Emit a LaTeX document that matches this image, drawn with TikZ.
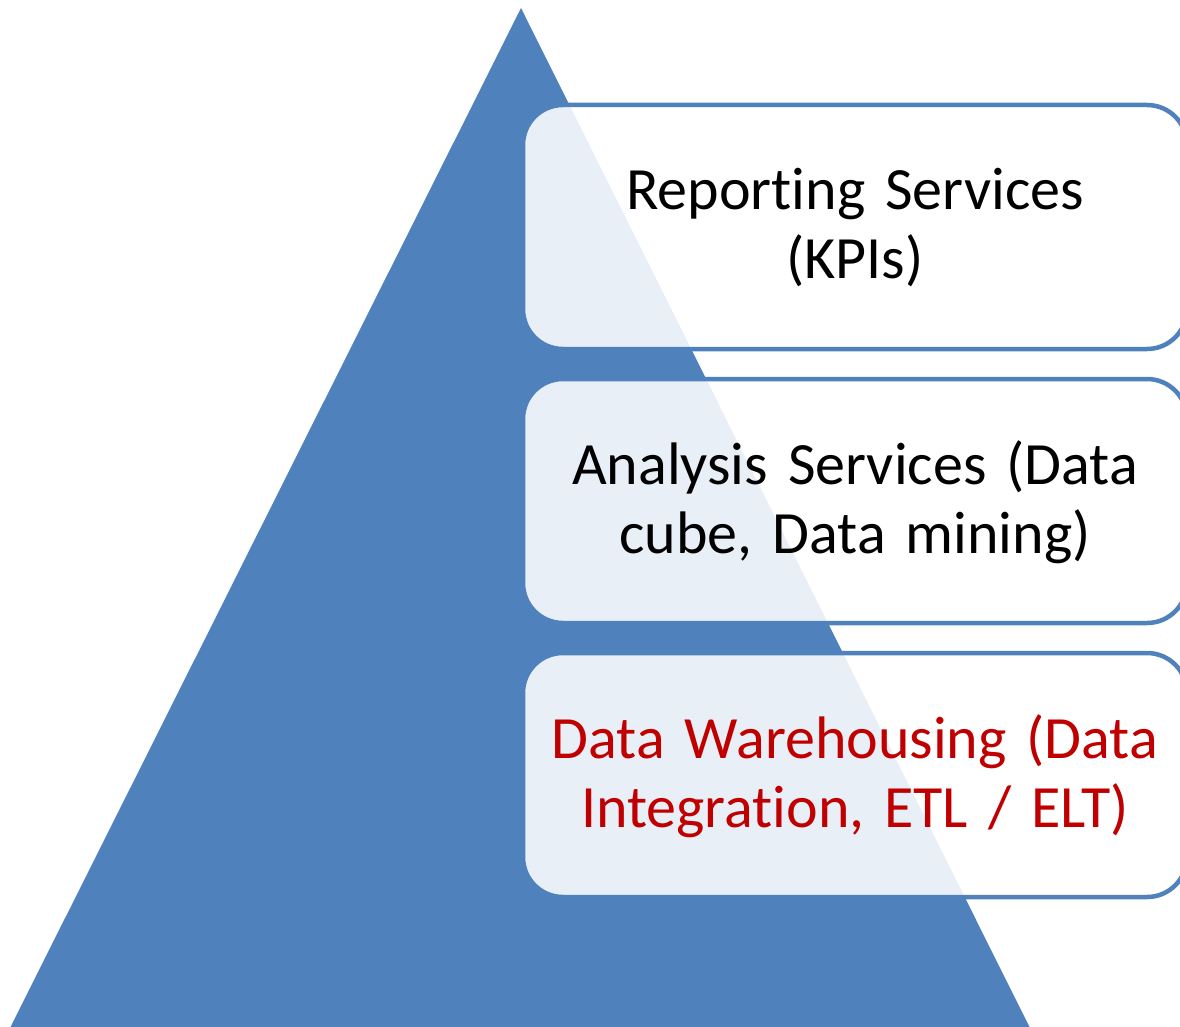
\documentclass[tikz,border=0pt]{standalone}
\usepackage{fontspec}
\setmainfont{Carlito}[Ligatures=NoCommon]
\definecolor{pblue}{HTML}{4F81BD}
\definecolor{tred}{HTML}{C00000}
\tikzset{
  tier/.style={draw=pblue, line width=4.5pt, fill=white, fill opacity=0.88, draw opacity=1, text opacity=1, rounded corners=40pt},
  tiertext/.style={align=center, font=\fontsize{60}{69}\selectfont, text width=660pt}
}
\begin{document}
\begin{tikzpicture}[x=1pt,y=-1pt]
\useasboundingbox (0,0) rectangle (1180,1027);
\begin{scope}
\clip (0,0) rectangle (1180,1027);
\fill[pblue] (521,8) coordinate (apex) -- (4,1040) coordinate (bl) -- (1036,1040) coordinate (br) -- cycle;
\draw[tier] (523,105) rectangle (1187,349);
\draw[tier] (523,379) rectangle (1187,623);
\draw[tier] (523,653) rectangle (1187,897);
\end{scope}
\node[tiertext] (t1) at (855,228) {Reporting Services\\(KPIs)};
\node[tiertext] (t2) at (855,502) {Analysis Services (Data\\cube, Data mining)};
\node[tiertext, text=tred] (t3) at (855,776) {Data Warehousing (Data\\Integration, ETL / ELT)};
\end{tikzpicture}
\end{document}
